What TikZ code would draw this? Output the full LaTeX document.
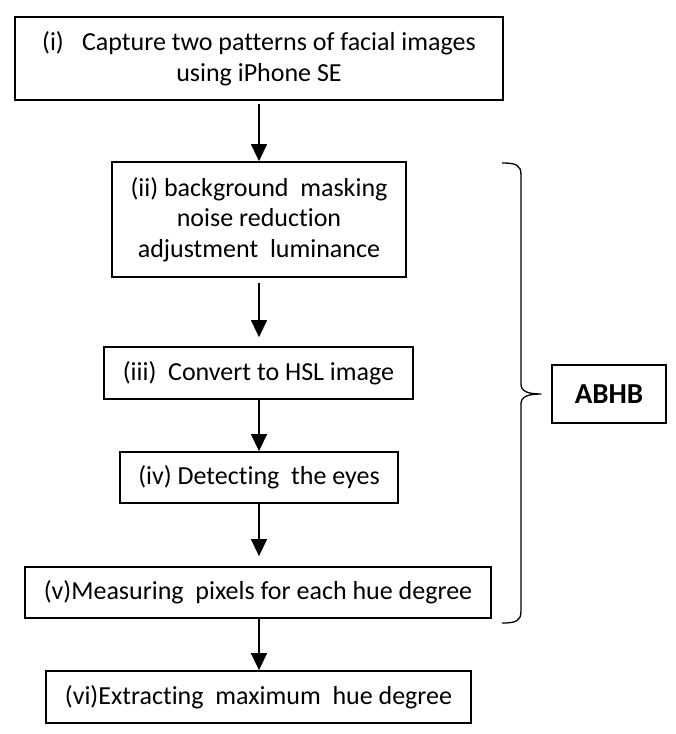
\documentclass[tikz,border=0pt]{standalone}
\usepackage{fontspec}
\setmainfont{Carlito}[Ligatures={NoCommon}]
\usetikzlibrary{arrows.meta}
\begin{document}
\begin{tikzpicture}[x=1pt,y=-1pt,
  stepbox/.style={draw=black,line width=1.8pt,inner sep=0pt,align=center,
    font=\fontsize{26}{30.5}\selectfont},
  flow/.style={line width=1.4pt,-{Triangle[length=17pt,width=16pt]}},
  bracepath/.style={line width=1.3pt,line join=round}]
\useasboundingbox (0,0) rectangle (676,734);
\node[stepbox,minimum width=488pt,minimum height=83pt] (s1) at (259,58.5)
  {(i)\hspace{0.7em}Capture two patterns of facial images\\using iPhone SE};
\node[stepbox,minimum width=294pt,minimum height=115pt] (s2) at (259,219.5)
  {(ii) background\ \ masking\\noise reduction\\adjustment\ \ luminance};
\node[stepbox,minimum width=309pt,minimum height=52pt] (s3) at (258.5,373)
  {(iii)\ \ Convert to HSL image};
\node[stepbox,minimum width=278pt,minimum height=51pt] (s4) at (259,477.5)
  {(iv) Detecting\ \ the eyes};
\node[stepbox,minimum width=466pt,minimum height=51pt] (s5) at (258,592.5)
  {(v)Measuring\ \ pixels for each hue degree};
\node[stepbox,minimum width=114pt,minimum height=58pt,font=\fontsize{29}{34}\selectfont\bfseries] (abhb) at (609,394) {ABHB};
\node[stepbox,minimum width=425pt,minimum height=52pt] (s6) at (258.5,697)
  {(vi)Extracting\ \ maximum\ \ hue degree};
\draw[flow,shorten <=3pt] (s1.south -| 259,0) -- (s2.north -| 259,0);
\draw[flow,shorten <=5pt,shorten >=9pt] (s2.south -| 259,0) -- (s3.north -| 259,0);
\draw[flow] (s3.south -| 259,0) -- (s4.north -| 259,0);
\draw[flow,shorten >=10pt] (s4.south -| 259,0) -- (s5.north -| 259,0);
\draw[flow] (s5.south -| 259,0) -- (s6.north -| 259,0);
\coordinate (btop) at (502,163);
\coordinate (btip) at (541,394);
\coordinate (bbot) at (502,623);
\draw[bracepath] (btop) .. controls (516,163) and (521,165) .. (521,175)
  -- (521,384) .. controls (521,391) and (527,394) .. (btip)
  .. controls (527,394) and (521,397) .. (521,404)
  -- (521,611) .. controls (521,621) and (516,623) .. (bbot);
\end{tikzpicture}
\end{document}
